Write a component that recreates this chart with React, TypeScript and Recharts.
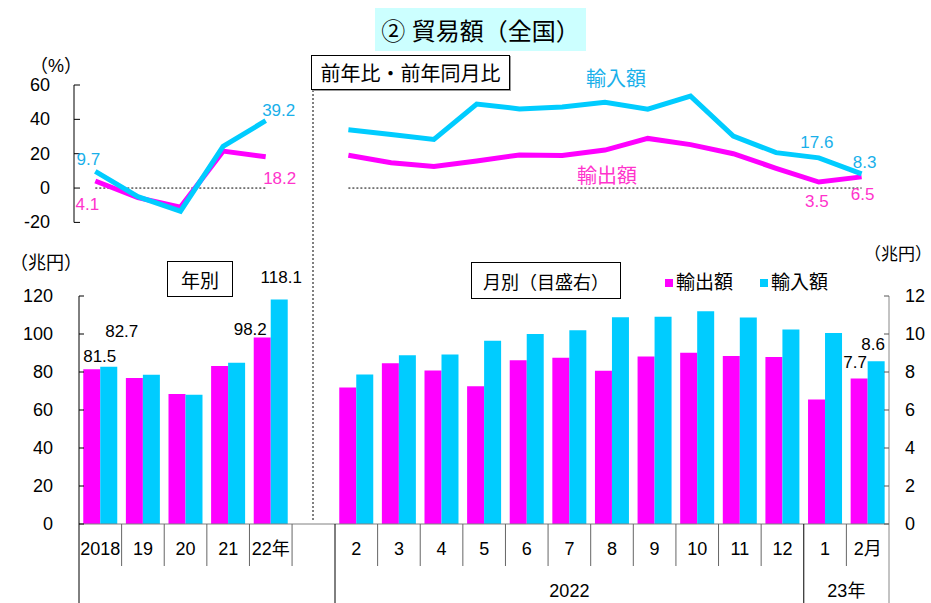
import {
  LineChart,
  Line,
  BarChart,
  Bar,
  XAxis,
  YAxis,
  ReferenceLine,
  LabelList,
} from "recharts";

// ── Data ──────────────────────────────────────────────────────────────────────
const years = ["2018", "19", "20", "21", "22年"];
const yearExport = [81.5, 76.9, 68.4, 83.1, 98.2];
const yearImport = [82.7, 78.6, 68.0, 84.9, 118.1];
const yearExportPct = [4.1, -5.6, -11.1, 21.5, 18.2];
const yearImportPct = [9.7, -5.0, -13.5, 24.3, 39.2];

const months = ["2", "3", "4", "5", "6", "7", "8", "9", "10", "11", "12", "1", "2月"];
const monthExport = [7.19, 8.46, 8.08, 7.25, 8.62, 8.75, 8.06, 8.82, 9.01, 8.84, 8.79, 6.55, 7.66];
const monthImport = [7.87, 8.88, 8.92, 9.65, 10.0, 10.2, 10.88, 10.91, 11.2, 10.87, 10.24, 10.05, 8.56];
const monthExportPct = [19.1, 14.7, 12.5, 15.8, 19.3, 19.0, 22.1, 28.9, 25.3, 20.0, 11.5, 3.5, 6.5];
const monthImportPct = [34.0, 31.2, 28.3, 48.9, 46.1, 47.2, 49.9, 45.9, 53.5, 30.3, 20.6, 17.6, 8.3];

const monthGroups = [
  { label: "2022", start: 0, end: 10 },
  { label: "23年", start: 11, end: 12 },
];

const pctTicks = [-20, 0, 20, 40, 60];
const yenTicks = [0, 20, 40, 60, 80, 100, 120];
const monthYenTicks = [0, 2, 4, 6, 8, 10, 12];

// ── Style / layout ────────────────────────────────────────────────────────────
const W = 931;
const H = 603;
const FONT = "'Liberation Sans', 'Noto Sans CJK JP', sans-serif";
const MAGENTA = "#FF00FF";
const CYAN = "#00CCFF";
const MAGENTA_TEXT = "#FF33CC";
const CYAN_TEXT = "#19B0EA";

const BAR_TOP = 296;
const BAR_BOTTOM = 524;
const YEAR_LEFT = 79;
const MONTH_LEFT = 335;
const MONTH_RIGHT = 889;
const BAND = (MONTH_RIGHT - MONTH_LEFT) / months.length;
const PCT_TOP = 85;
const PCT_BOTTOM = 222.4;
const SEP = 42;

// label offsets [dx, dy] keyed by point index
type Off = Record<number, [number, number]>;
const yearExportPctLabels: Off = { 0: [-8, 29], 4: [14, 27] };
const yearImportPctLabels: Off = { 0: [-7, -6], 4: [13, -5] };
const monthExportPctLabels: Off = { 11: [-2, 25], 12: [1, 23] };
const monthImportPctLabels: Off = { 11: [-2, -10], 12: [3, -6] };
const yearExportLabels: Off = { 0: [8, -7], 4: [-12, -2] };
const yearImportLabels: Off = { 0: [13, -30], 4: [2, -17] };
const monthExportLabels: Off = { 12: [-4, -10] };
const monthImportLabels: Off = { 12: [-3, -11] };

const yearPctData = years.map((y, i) => ({ year: y, exp: yearExportPct[i], imp: yearImportPct[i] }));
const monthPctData = months.map((m, i) => ({ month: m, exp: monthExportPct[i], imp: monthImportPct[i] }));
const yearData = years.map((y, i) => ({ year: y, exp: yearExport[i], imp: yearImport[i] }));
const monthData = months.map((m, i) => ({ month: m, exp: monthExport[i], imp: monthImport[i] }));

// ── Helpers ───────────────────────────────────────────────────────────────────
function valueLabel(offsets: Off, color: string, size = 17) {
  return (p: any) => {
    const o = offsets[p.index];
    if (!o) return null;
    const cx = Number(p.x) + (Number(p.width) || 0) / 2 + o[0];
    return (
      <text x={cx} y={Number(p.y) + o[1]} textAnchor="middle" fill={color} fontSize={size} fontFamily={FONT}>
        {Number(p.value).toFixed(1)}
      </text>
    );
  };
}

function leftTick(len: number, gap: number) {
  return (p: any) => (
    <g>
      <line x1={p.x} x2={p.x + len} y1={p.y} y2={p.y} stroke="#000" />
      <text x={p.x - gap} y={p.y} textAnchor="end" dominantBaseline="central" fontSize={18} fill="#000" fontFamily={FONT}>
        {p.payload.value}
      </text>
    </g>
  );
}

function rightTick(p: any) {
  return (
    <g>
      <line x1={p.x - 5} x2={p.x} y1={p.y} y2={p.y} stroke="#555" />
      <text x={p.x + 16} y={p.y} textAnchor="start" dominantBaseline="central" fontSize={18} fill="#000" fontFamily={FONT}>
        {p.payload.value}
      </text>
    </g>
  );
}

function yearTick(p: any) {
  const left = p.x - BAND / 2;
  const right = p.x + BAND / 2;
  return (
    <g>
      <text x={p.x} y={p.y + 31} textAnchor="middle" fontSize={18} fill="#000" fontFamily={FONT}>
        {p.payload.value}
      </text>
      {p.index === 0 && <line x1={left} x2={left} y1={p.y} y2={H} stroke="#000" />}
      <line x1={right} x2={right} y1={p.y} y2={p.y + SEP} stroke="#666" />
    </g>
  );
}

function monthTick(p: any) {
  const left = p.x - BAND / 2;
  const right = p.x + BAND / 2;
  const group = monthGroups.find((g) => g.start === p.index);
  const last = p.index === months.length - 1;
  return (
    <g>
      <text x={p.x} y={p.y + 31} textAnchor="middle" fontSize={18} fill="#000" fontFamily={FONT}>
        {p.payload.value}
      </text>
      <line x1={left} x2={left} y1={p.y} y2={group ? H : p.y + SEP} stroke={group ? "#000" : "#666"} />
      {last && <line x1={right} x2={right} y1={p.y} y2={H} stroke="#888" />}
      {group && (
        <text
          x={left + ((group.end - group.start + 1) * BAND) / 2}
          y={p.y + 73}
          textAnchor="middle"
          fontSize={18}
          fill="#000"
          fontFamily={FONT}
        >
          {group.label}
        </text>
      )}
    </g>
  );
}

function Txt({ x, cy, size, color = "#000", children }: any) {
  return (
    <div
      style={{
        position: "absolute",
        left: x,
        top: cy - size,
        height: size * 2,
        lineHeight: `${size * 2}px`,
        fontSize: size,
        color,
        whiteSpace: "nowrap",
      }}
    >
      {children}
    </div>
  );
}

function Box({ x, y, w, h, size, children, shadow = false }: any) {
  return (
    <div
      style={{
        position: "absolute",
        left: x,
        top: y,
        width: w,
        height: h,
        border: "1px solid #000",
        boxSizing: "border-box",
        boxShadow: shadow ? "1px 1px 0 #999" : undefined,
        display: "flex",
        alignItems: "center",
        justifyContent: "center",
        fontSize: size,
        background: "#fff",
      }}
    >
      {children}
    </div>
  );
}

const layer: React.CSSProperties = { position: "absolute", left: 0, top: 0 };

// ── Component ─────────────────────────────────────────────────────────────────
export default function App() {
  return (
    <div style={{ position: "absolute", left: 0, top: 0, width: W, height: H, background: "#fff", fontFamily: FONT, overflow: "hidden" }}>
      {/* annual % change */}
      <div style={layer}>
        <LineChart
          width={W}
          height={H}
          data={yearPctData}
          margin={{ top: PCT_TOP, left: 14, right: W - 287, bottom: H - PCT_BOTTOM }}
        >
          <XAxis dataKey="year" hide scale="band" />
          <YAxis
            domain={[-20, 60]}
            ticks={pctTicks}
            width={60}
            tickSize={0}
            tickMargin={0}
            tickLine={false}
            axisLine={{ stroke: "#000" }}
            tick={leftTick(6, 24)}
            interval={0}
          />
          <ReferenceLine
            segment={[{ x: years[0], y: 0 }, { x: years[years.length - 1], y: 0 }]}
            stroke="#000"
            strokeDasharray="2 2"
          />
          <Line dataKey="exp" stroke={MAGENTA} strokeWidth={5} dot={false} isAnimationActive={false}>
            <LabelList dataKey="exp" content={valueLabel(yearExportPctLabels, MAGENTA_TEXT)} />
          </Line>
          <Line dataKey="imp" stroke={CYAN} strokeWidth={5} dot={false} isAnimationActive={false}>
            <LabelList dataKey="imp" content={valueLabel(yearImportPctLabels, CYAN_TEXT)} />
          </Line>
        </LineChart>
      </div>

      {/* monthly % change */}
      <div style={layer}>
        <LineChart
          width={W}
          height={H}
          data={monthPctData}
          margin={{ top: PCT_TOP, left: 327, right: W - 883, bottom: H - PCT_BOTTOM }}
        >
          <XAxis dataKey="month" hide scale="band" />
          <YAxis hide domain={[-20, 60]} />
          <ReferenceLine
            segment={[{ x: months[0], y: 0 }, { x: months[months.length - 1], y: 0 }]}
            stroke="#000"
            strokeDasharray="2 2"
          />
          <Line dataKey="exp" stroke={MAGENTA} strokeWidth={5} dot={false} isAnimationActive={false}>
            <LabelList dataKey="exp" content={valueLabel(monthExportPctLabels, MAGENTA_TEXT)} />
          </Line>
          <Line dataKey="imp" stroke={CYAN} strokeWidth={5} dot={false} isAnimationActive={false}>
            <LabelList dataKey="imp" content={valueLabel(monthImportPctLabels, CYAN_TEXT)} />
          </Line>
        </LineChart>
      </div>

      {/* annual totals */}
      <div style={layer}>
        <BarChart
          width={W}
          height={H}
          data={yearData}
          margin={{ top: BAR_TOP, left: YEAR_LEFT - 60, right: W - MONTH_LEFT, bottom: 0 }}
          barCategoryGap="10%"
          barGap={0}
        >
          <XAxis
            dataKey="year"
            height={H - BAR_BOTTOM}
            padding={{ left: 0, right: MONTH_LEFT - YEAR_LEFT - BAND * years.length }}
            tickSize={0}
            tickMargin={0}
            tickLine={false}
            axisLine={{ stroke: "#808080" }}
            tick={yearTick}
            interval={0}
          />
          <YAxis
            domain={[0, 120]}
            ticks={yenTicks}
            width={60}
            tickSize={0}
            tickMargin={0}
            tickLine={false}
            axisLine={{ stroke: "#000" }}
            tick={leftTick(5, 26)}
            interval={0}
          />
          <Bar dataKey="exp" fill={MAGENTA} isAnimationActive={false}>
            <LabelList dataKey="exp" content={valueLabel(yearExportLabels, "#000")} />
          </Bar>
          <Bar dataKey="imp" fill={CYAN} isAnimationActive={false}>
            <LabelList dataKey="imp" content={valueLabel(yearImportLabels, "#000")} />
          </Bar>
        </BarChart>
      </div>

      {/* monthly totals (right scale) */}
      <div style={layer}>
        <BarChart
          width={W}
          height={H}
          data={monthData}
          margin={{ top: BAR_TOP, left: MONTH_LEFT, right: 0, bottom: 0 }}
          barCategoryGap="10%"
          barGap={0}
        >
          <XAxis
            dataKey="month"
            height={H - BAR_BOTTOM}
            tickSize={0}
            tickMargin={0}
            tickLine={false}
            axisLine={{ stroke: "#808080" }}
            tick={monthTick}
            interval={0}
          />
          <YAxis
            orientation="right"
            domain={[0, 12]}
            ticks={monthYenTicks}
            width={W - MONTH_RIGHT}
            tickSize={0}
            tickMargin={0}
            tickLine={false}
            axisLine={{ stroke: "#888" }}
            tick={rightTick}
            interval={0}
          />
          <Bar dataKey="exp" fill={MAGENTA} isAnimationActive={false}>
            <LabelList dataKey="exp" content={valueLabel(monthExportLabels, "#000")} />
          </Bar>
          <Bar dataKey="imp" fill={CYAN} isAnimationActive={false}>
            <LabelList dataKey="imp" content={valueLabel(monthImportLabels, "#000")} />
          </Bar>
        </BarChart>
      </div>

      {/* divider between annual and monthly panels */}
      <svg style={{ ...layer, pointerEvents: "none" }} width={W} height={H}>
        <line x1={313} x2={313} y1={90} y2={520} stroke="#000" strokeDasharray="2 2" />
      </svg>

      {/* title */}
      <div
        style={{
          position: "absolute",
          left: 375,
          top: 8,
          width: 211,
          height: 43,
          background: "#CCFFFF",
          display: "flex",
          alignItems: "center",
          justifyContent: "center",
          fontSize: 24,
        }}
      >
        ② 貿易額（全国）
      </div>

      <Box x={311} y={55} w={199} h={35} size={20} shadow>
        前年比・前年同月比
      </Box>
      <Box x={167} y={261} w={66} h={36} size={19}>
        年別
      </Box>
      <Box x={471} y={262} w={150} h={37} size={18}>
        月別（目盛右）
      </Box>

      <Txt x={30} cy={66} size={18}>（%）</Txt>
      <Txt x={10} cy={263} size={18}>（兆円）</Txt>
      <Txt x={864} cy={255} size={17}>（兆円）</Txt>

      <Txt x={586} cy={79} size={20} color={CYAN_TEXT}>輸入額</Txt>
      <Txt x={577} cy={176} size={20} color={MAGENTA_TEXT}>輸出額</Txt>

      {/* legend */}
      <div style={{ position: "absolute", left: 665, top: 279, width: 8, height: 8, background: MAGENTA }} />
      <Txt x={676} cy={283} size={19}>輸出額</Txt>
      <div style={{ position: "absolute", left: 760, top: 279, width: 8, height: 8, background: CYAN }} />
      <Txt x={771} cy={283} size={19}>輸入額</Txt>
    </div>
  );
}
